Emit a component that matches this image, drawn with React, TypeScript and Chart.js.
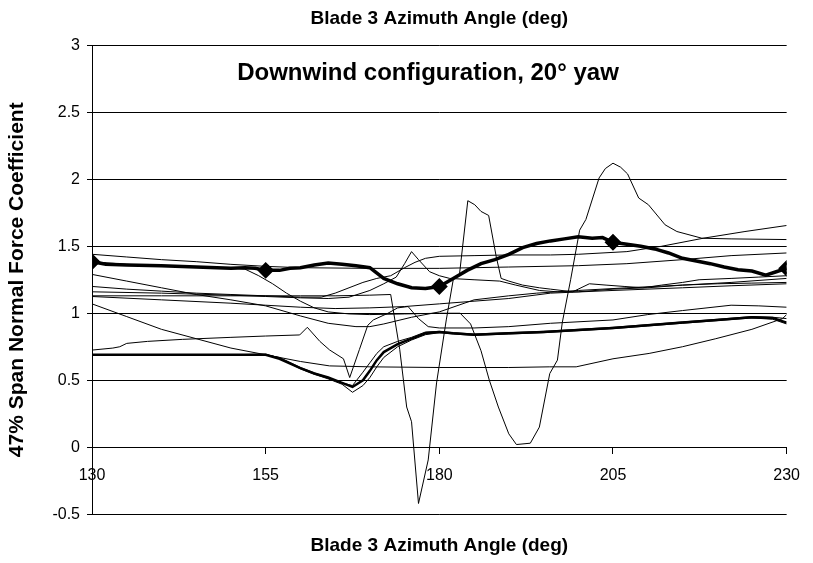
import React, { useEffect, useRef } from 'react';
import { Chart, registerables } from 'chart.js';

Chart.register(...registerables);

const titleText = 'Blade 3 Azimuth Angle (deg)';
const yTitleText = '47% Span Normal Force Coefficient';
const annotationText = 'Downwind configuration, 20\u00b0 yaw';
const markerAngles = [130, 155, 180, 205, 230];

// Thick line with diamond markers
const thickX = [130, 132, 135, 140, 145, 148, 150, 152, 153.5, 155, 157, 158.5, 160, 162, 164, 166, 168, 170, 172, 174, 176, 178, 180, 182, 184, 186, 188, 190, 192, 194, 196, 198, 200, 202, 203.5, 205, 207, 209, 211, 213, 215, 217, 219, 221, 223, 225, 227, 228.5, 230];
const thickY = [1.385, 1.365, 1.36, 1.355, 1.345, 1.34, 1.335, 1.34, 1.335, 1.32, 1.32, 1.335, 1.34, 1.36, 1.375, 1.365, 1.355, 1.34, 1.26, 1.22, 1.19, 1.185, 1.2, 1.26, 1.32, 1.37, 1.4, 1.44, 1.49, 1.52, 1.54, 1.555, 1.57, 1.56, 1.565, 1.53, 1.515, 1.5, 1.48, 1.45, 1.41, 1.39, 1.37, 1.345, 1.325, 1.315, 1.285, 1.31, 1.335];

// Lower bundle (three nearly coincident runs)
const bundleX = [130, 140, 150, 155, 157, 160, 162, 164, 166, 167.5, 169, 170, 171, 172, 174, 176, 178, 180, 182, 185, 190, 195, 200, 205, 210, 215, 220, 225, 228, 230];
const bundleAY = [0.69, 0.69, 0.69, 0.69, 0.66, 0.59, 0.55, 0.52, 0.48, 0.45, 0.5, 0.57, 0.65, 0.71, 0.77, 0.81, 0.85, 0.86, 0.85, 0.84, 0.85, 0.86, 0.875, 0.89, 0.91, 0.93, 0.95, 0.97, 0.965, 0.93];
const bundleBY = [0.69, 0.69, 0.69, 0.695, 0.665, 0.585, 0.545, 0.51, 0.47, 0.41, 0.46, 0.52, 0.6, 0.67, 0.75, 0.8, 0.84, 0.855, 0.845, 0.835, 0.845, 0.855, 0.87, 0.885, 0.905, 0.925, 0.945, 0.965, 0.955, 0.92];
const bundleCY = [0.69, 0.69, 0.69, 0.69, 0.67, 0.595, 0.555, 0.52, 0.48, 0.46, 0.56, 0.63, 0.7, 0.75, 0.79, 0.82, 0.86, 0.865, 0.855, 0.845, 0.855, 0.865, 0.88, 0.895, 0.915, 0.935, 0.955, 0.975, 0.97, 0.96];

// Flat line with the deep spike near 177 deg
const spikeX = [130, 140, 150, 160, 165, 170, 173, 174.3, 175.3, 176, 177, 178.4, 179.6, 181, 182, 182.9, 184.1, 185.1, 186, 187.1, 188.2, 188.9, 190, 192, 194.4, 196, 199.2, 201.6, 204, 206.6, 209.3, 212, 215, 217.4, 222, 226, 230];
const spikeY = [1.13, 1.13, 1.13, 1.13, 1.13, 1.135, 1.14, 0.73, 0.3, 0.19, -0.42, -0.095, 0.48, 0.95, 1.25, 1.29, 1.84, 1.81, 1.76, 1.73, 1.42, 1.26, 1.24, 1.21, 1.19, 1.18, 1.16, 1.22, 1.21, 1.2, 1.19, 1.21, 1.23, 1.25, 1.26, 1.27, 1.28];

// Line that dips to zero and peaks above 2
const peakX = [130, 135, 140, 145, 150, 152, 154, 156, 158, 160, 162, 164, 167, 170, 175, 180, 183, 184.5, 186, 187.2, 188.5, 190, 191.1, 193.1, 194.4, 195.9, 197, 197.7, 198.9, 200.2, 201.1, 203, 203.9, 205, 206.1, 207.1, 208.7, 210.1, 212.5, 214.2, 217.8, 222, 230];
const peakY = [1.385, 1.365, 1.355, 1.345, 1.34, 1.33, 1.28, 1.22, 1.15, 1.09, 1.04, 1.01, 0.995, 0.99, 0.995, 1.0, 1.0, 0.92, 0.72, 0.5, 0.3, 0.1, 0.02, 0.03, 0.15, 0.55, 0.65, 0.93, 1.25, 1.62, 1.7, 2.01, 2.08, 2.12, 2.09, 2.04, 1.86, 1.81, 1.66, 1.61, 1.56, 1.555, 1.55];

const upperX = [130, 135, 140, 145, 150, 155, 160, 170, 180, 190, 200, 207, 215, 222, 230];
const upperY = [1.44, 1.42, 1.4, 1.385, 1.365, 1.35, 1.34, 1.335, 1.335, 1.345, 1.355, 1.37, 1.4, 1.43, 1.45];

const riseX = [130, 135, 140, 145, 150, 155, 160, 163, 165, 167, 169, 171, 173, 175, 176.5, 178, 180, 185, 190, 196, 200, 207, 212, 218, 224, 230];
const riseY = [1.2, 1.18, 1.165, 1.15, 1.14, 1.13, 1.12, 1.12, 1.15, 1.19, 1.23, 1.26, 1.28, 1.34, 1.38, 1.41, 1.425, 1.43, 1.435, 1.435, 1.44, 1.46, 1.5, 1.56, 1.61, 1.655];

const bumpX = [130, 140, 150, 155, 160, 164, 167, 170, 172, 173.8, 175, 176, 177, 178.6, 180, 181.5, 185, 188.7, 191, 194.4, 197, 200, 205, 210, 215, 220, 225, 230];
const bumpY = [1.16, 1.15, 1.135, 1.125, 1.115, 1.11, 1.12, 1.17, 1.22, 1.27, 1.37, 1.46, 1.4, 1.31, 1.28, 1.26, 1.25, 1.24, 1.21, 1.17, 1.16, 1.16, 1.18, 1.19, 1.21, 1.22, 1.225, 1.23];

const valleyX = [130, 135, 140, 145, 150, 155, 160, 164, 168, 170, 172, 176, 180, 185, 190, 194, 200, 207, 215, 222, 230];
const valleyY = [1.29, 1.24, 1.19, 1.14, 1.1, 1.055, 0.98, 0.925, 0.9, 0.9, 0.92, 0.97, 1.01, 1.1, 1.13, 1.15, 1.17, 1.19, 1.21, 1.23, 1.26];

const gentleX = [130, 140, 150, 155, 160, 165, 170, 175, 180, 185, 190, 196, 205, 215, 222, 230];
const gentleY = [1.125, 1.1, 1.075, 1.06, 1.045, 1.035, 1.04, 1.05, 1.07, 1.09, 1.11, 1.15, 1.17, 1.19, 1.205, 1.22];

const vX = [130, 133, 134, 135, 138, 143, 150, 155, 159.9, 161, 162.8, 164.2, 166.2, 167.1, 168.5, 169.7, 170.5, 172.6, 174, 175.5, 177, 178.4, 180, 185, 190, 196, 205, 210, 215, 222, 226, 230];
const vY = [0.725, 0.74, 0.75, 0.775, 0.79, 0.805, 0.82, 0.83, 0.838, 0.895, 0.79, 0.726, 0.66, 0.52, 0.73, 0.91, 0.95, 1.0, 1.04, 1.05, 0.96, 0.9, 0.89, 0.89, 0.9, 0.925, 0.95, 0.99, 1.02, 1.06, 1.055, 1.045];

const slopeX = [130, 135, 140, 145, 150, 155, 160, 164.2, 170, 180, 190, 195.9, 199.7, 205, 210.2, 215, 219.8, 225, 229.4, 230];
const slopeY = [1.07, 0.975, 0.88, 0.81, 0.74, 0.69, 0.64, 0.607, 0.6, 0.595, 0.595, 0.6, 0.6, 0.66, 0.7, 0.75, 0.81, 0.88, 0.96, 0.99];

const zip = (xs: number[], ys: number[]) => xs.map((x, i) => ({ x, y: ys[i] }));

const thin = (xs: number[], ys: number[]) => ({
  data: zip(xs, ys),
  borderColor: '#000',
  borderWidth: 1,
  pointRadius: 0,
  fill: false,
  tension: 0,
});

const annotationPlugin = {
  id: 'annotationText',
  afterDraw(chart: any) {
    const { ctx, chartArea } = chart;
    ctx.save();
    ctx.font = 'bold 24px "Liberation Sans", Arial, sans-serif';
    ctx.fillStyle = '#000';
    ctx.textAlign = 'center';
    ctx.textBaseline = 'middle';
    ctx.fillText(annotationText, chartArea.left + 336, chartArea.top + 28);
    ctx.restore();
  },
};

export default function App() {
  const canvasRef = useRef<HTMLCanvasElement | null>(null);

  useEffect(() => {
    const canvas = canvasRef.current;
    if (!canvas) return;
    const font = '"Liberation Sans", Arial, sans-serif';
    const chart = new Chart(canvas, {
      type: 'line',
      data: {
        datasets: [
          thin(slopeX, slopeY),
          thin(vX, vY),
          thin(gentleX, gentleY),
          thin(valleyX, valleyY),
          thin(bumpX, bumpY),
          thin(riseX, riseY),
          thin(upperX, upperY),
          thin(peakX, peakY),
          thin(spikeX, spikeY),
          thin(bundleX, bundleBY),
          thin(bundleX, bundleCY),
          { ...thin(bundleX, bundleAY), borderWidth: 2.5 },
          {
            data: zip(thickX, thickY),
            borderColor: '#000',
            backgroundColor: '#000',
            borderWidth: 3.5,
            pointStyle: 'rectRot',
            pointRadius: (c: any) => (markerAngles.includes(c.raw?.x) ? 6 : 0),
            pointHoverRadius: 0,
            fill: false,
            tension: 0,
          },
        ],
      },
      options: {
        animation: false,
        responsive: false,
        maintainAspectRatio: false,
        layout: { padding: { left: 0, right: 25, top: 0, bottom: 0 } },
        plugins: {
          legend: { display: false },
          tooltip: { enabled: false },
          title: {
            display: true,
            text: titleText,
            fullSize: false,
            color: '#000',
            font: { family: font, size: 19, weight: 'bold' },
            padding: { top: 7, bottom: 15.5 },
          },
          subtitle: {
            display: true,
            text: titleText,
            position: 'bottom',
            fullSize: false,
            color: '#000',
            font: { family: font, size: 19, weight: 'bold' },
            padding: { top: 20, bottom: 6 },
          },
        },
        scales: {
          x: {
            type: 'linear',
            min: 130,
            max: 230,
            position: { y: 0 },
            afterFit: (s: any) => { s.height = 0; },
            ticks: {
              stepSize: 25,
              color: '#000',
              font: { family: font, size: 16 },
              padding: 13,
              maxRotation: 0,
              callback: (v: any) => String(v),
            },
            grid: { drawOnChartArea: false, drawTicks: true, tickLength: 6, color: '#000' },
            border: { display: true, color: '#000', width: 1 },
          },
          y: {
            type: 'linear',
            min: -0.5,
            max: 3,
            afterFit: (s: any) => { s.width = 92; },
            ticks: {
              stepSize: 0.5,
              color: '#000',
              font: { family: font, size: 16 },
              padding: 7,
              callback: (v: any) => String(v),
            },
            grid: { color: '#000', lineWidth: 1, drawTicks: true, tickLength: 5 },
            border: { display: true, color: '#000', width: 1 },
            title: {
              display: true,
              text: yTitleText,
              color: '#000',
              font: { family: font, size: 21, weight: 'bold' },
              padding: { top: 5 },
            },
          },
        },
      },
      plugins: [annotationPlugin],
    } as any);
    return () => chart.destroy();
  }, []);

  return (
    <div style={{ position: 'absolute', left: 0, top: 0, width: 813, height: 563, background: '#fff' }}>
      <canvas ref={canvasRef} width={813} height={563} style={{ width: 813, height: 563 }} />
    </div>
  );
}
